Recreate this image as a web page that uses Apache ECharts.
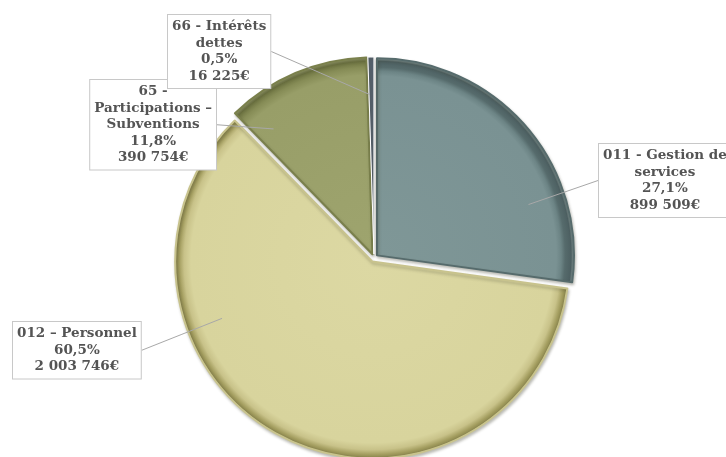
<!DOCTYPE html>
<html><head><meta charset="utf-8">
<script src="https://cdn.jsdelivr.net/npm/echarts@6/dist/echarts.min.js"></script>
<style>html,body{margin:0;padding:0;background:#fff}#c{width:726px;height:457px}</style>
</head><body><div id="c"></div>
<script>
// ---- data ----
const categories = ['011 - Gestion de\nservices', '012 – Personnel', '65 -\nParticipations –\nSubventions', '66 - Intérêts\ndettes'];
const amounts = [899509, 2003746, 390754, 16225];
const percentLabels = ['27,1%', '60,5%', '11,8%', '0,5%'];
const amountLabels = ['899 509€', '2 003 746€', '390 754€', '16 225€'];

// ---- layout / style ----
const CX = 374, CY = 258, R = 197, OFFSET = 4;
const labelBoxes = [
  { left: 598, top: 143, side: 'left' },
  { left: 12, top: 321, side: 'right' },
  { right: 217, top: 79, side: 'right' },
  { left: 167, top: 14, side: 'right' }
];
const sliceStops = [
  [[0, '#7f9797'], [0.91, '#7a9293'], [0.935, '#6c8485'], [0.955, '#566b6c'], [0.985, '#4d6062'], [1, '#8a9c9c']],
  [[0, '#dcd8a3'], [0.92, '#d8d49d'], [0.955, '#c8c289'], [0.98, '#a39d5f'], [0.995, '#8c874f'], [1, '#bdb883']],
  [[0, '#9ea46e'], [0.91, '#989e68'], [0.95, '#868c56'], [0.98, '#6d7341'], [1, '#9aa070']],
  [[0, '#56616d'], [1, '#56616d']]
];
const borderColors = ['#566b6c', '#c8c38d', '#7a804c', '#ffffff'];
const borderWidths = [2, 2, 2, 1];

const total = amounts.reduce((a, b) => a + b, 0);
const startDeg = [], endDeg = [];
let acc = 0;
amounts.forEach((v, i) => { startDeg.push(acc / total * 360); acc += v; endDeg.push(acc / total * 360); });

const chart = echarts.init(document.getElementById('c'), null, { renderer: 'canvas' });

const pieData = amounts.map((v, i) => ({
  name: categories[i],
  value: v,
  selected: true,
  itemStyle: {
    color: new echarts.graphic.RadialGradient(CX, CY, R, sliceStops[i].map(s => ({ offset: s[0], color: s[1] })), true),
    borderColor: borderColors[i],
    borderWidth: borderWidths[i],
    shadowBlur: 3,
    shadowColor: 'rgba(60,60,40,0.3)',
    shadowOffsetX: 1,
    shadowOffsetY: 2
  }
}));
const labelData = amounts.map((v, i) => ({ name: categories[i], value: v }));

chart.setOption({
  animation: false,
  backgroundColor: '#ffffff',
  series: [{
    type: 'pie',
    center: [CX, CY],
    radius: R,
    startAngle: 90,
    clockwise: true,
    selectedMode: 'multiple',
    selectedOffset: OFFSET,
    emphasis: { disabled: true },
    label: { show: false },
    labelLine: { show: false },
    data: pieData,
    z: 1
  }, {
    type: 'pie',
    center: [CX, CY],
    radius: R * 0.84,
    startAngle: 90,
    clockwise: true,
    silent: true,
    avoidLabelOverlap: false,
    emphasis: { disabled: true },
    itemStyle: { color: 'rgba(0,0,0,0)', borderWidth: 0 },
    data: labelData,
    z: 2,
    label: {
      show: true,
      position: 'outside',
      formatter: p => p.name + '\n' + percentLabels[p.dataIndex] + '\n' + amountLabels[p.dataIndex],
      fontFamily: 'DejaVu Serif',
      fontWeight: 'bold',
      fontSize: 13.5,
      lineHeight: 16.5,
      color: '#545454',
      align: 'center',
      backgroundColor: '#ffffff',
      borderColor: '#c8c8c8',
      borderWidth: 1,
      padding: [4, 4, 3, 4]
    },
    labelLine: {
      show: true,
      length: 8,
      length2: 8,
      lineStyle: { color: '#a8a8a8', width: 1 }
    },
    labelLayout: function (p) {
      const i = p.dataIndex;
      const b = labelBoxes[i];
      const w = p.labelRect.width, h = p.labelRect.height;
      const left = b.left != null ? b.left : b.right - w;
      const x = left + w / 2, y = b.top + h / 2;
      const ex = b.side === 'left' ? left : left + w;
      const ey = y;
      let ang = Math.atan2(ex - CX, -(ey - CY)) * 180 / Math.PI;
      if (ang < 0) ang += 360;
      const m = (endDeg[i] - startDeg[i]) * 0.15;
      ang = Math.min(Math.max(ang, startDeg[i] + m), endDeg[i] - m);
      const rr = R * 0.83;
      const ax = CX + rr * Math.sin(ang * Math.PI / 180);
      const ay = CY - rr * Math.cos(ang * Math.PI / 180);
      return {
        x: x, y: y, align: 'center', verticalAlign: 'middle',
        labelLinePoints: [[ax, ay], [(ax + ex) / 2, (ay + ey) / 2], [ex, ey]]
      };
    }
  }]
});
</script>
</body></html>
